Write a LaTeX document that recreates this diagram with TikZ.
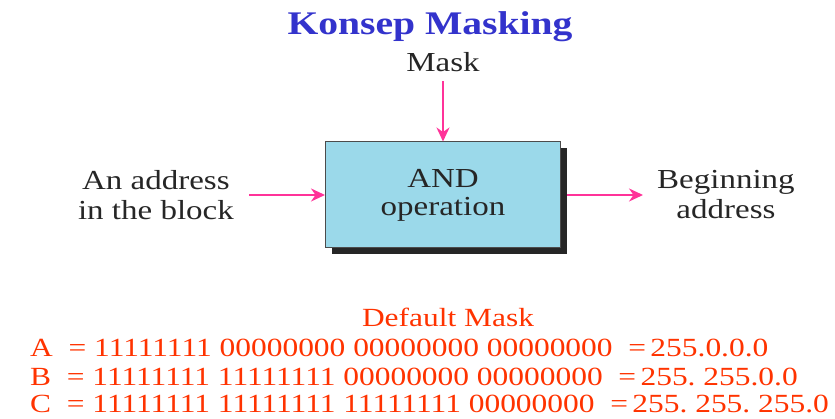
\documentclass[tikz,border=0pt]{standalone}
\usepackage{fontspec}
\setmainfont[FakeStretch=1.2]{Liberation Serif}
\usetikzlibrary{positioning}
\usetikzlibrary{arrows.meta}
\usetikzlibrary{shadows}
\definecolor{titleblue}{RGB}{51,51,204}
\definecolor{maskred}{RGB}{255,51,0}
\definecolor{arrowpink}{RGB}{255,51,153}
\definecolor{boxblue}{RGB}{155,217,234}
\tikzset{
    opnode/.style = {rectangle, draw=black!70, line width=1pt, fill=boxblue, align=center, minimum width=235pt, minimum height=106pt, font=\fontsize{27.5}{28}\selectfont, text=black!85, drop shadow={shadow xshift=6pt, shadow yshift=-6pt, fill=black!85, opacity=1}},
    txtnode/.style = {inner sep=0pt, align=center, font=\fontsize{27.5}{30}\selectfont, text=black!85},
    rownode/.style = {inner sep=0pt, anchor=base west, font=\fontsize{26.2}{27.5}\selectfont, text=maskred},
    edgep/.style = {-{Stealth[length=14pt, width=13pt]}, line width=2pt, arrowpink}, % pink arrows
}
\begin{document}
\begin{tikzpicture}[x=1pt, y=-1pt]
  \useasboundingbox (0,0) rectangle (835,419);
  % title
  \node[inner sep=0pt, anchor=base, font=\fontsize{33}{33}\selectfont\bfseries, text=titleblue] (title) at (430,35) {Konsep Masking};
  % block
  \node[opnode] (box) at (443,195) {AND\\operation};
  \node[txtnode, above=70pt of box] (mask) {Mask};
  \node[txtnode, left=91pt of box] (inaddr) {An address\\in the block};
  \node[txtnode, right=96pt of box] (begaddr) {Beginning\\address};
  \draw[edgep] ([yshift=-10pt]mask.south) -- (box.north);
  \draw[edgep] ([xshift=15pt]inaddr.east) -- (box.west);
  \draw[edgep] ([xshift=6pt]box.east) -- ([xshift=-14pt]begaddr.west);
  % default masks
  \node[rownode, anchor=base] (defmask) at (448,327) {Default Mask};
  \node[rownode] (rowa) at (30,357) {A\ \ =\ 11111111 00000000 00000000 00000000\ \ =\,255.0.0.0};
  \node[rownode] (rowb) at (30,385) {B\ \ =\ 11111111 11111111 00000000 00000000\ \ =\,255.\ 255.0.0};
  \node[rownode] (rowc) at (30,412) {C\ \ =\ 11111111 11111111 11111111 00000000\ \ =\,255.\ 255.\ 255.0};
\end{tikzpicture}
\end{document}
